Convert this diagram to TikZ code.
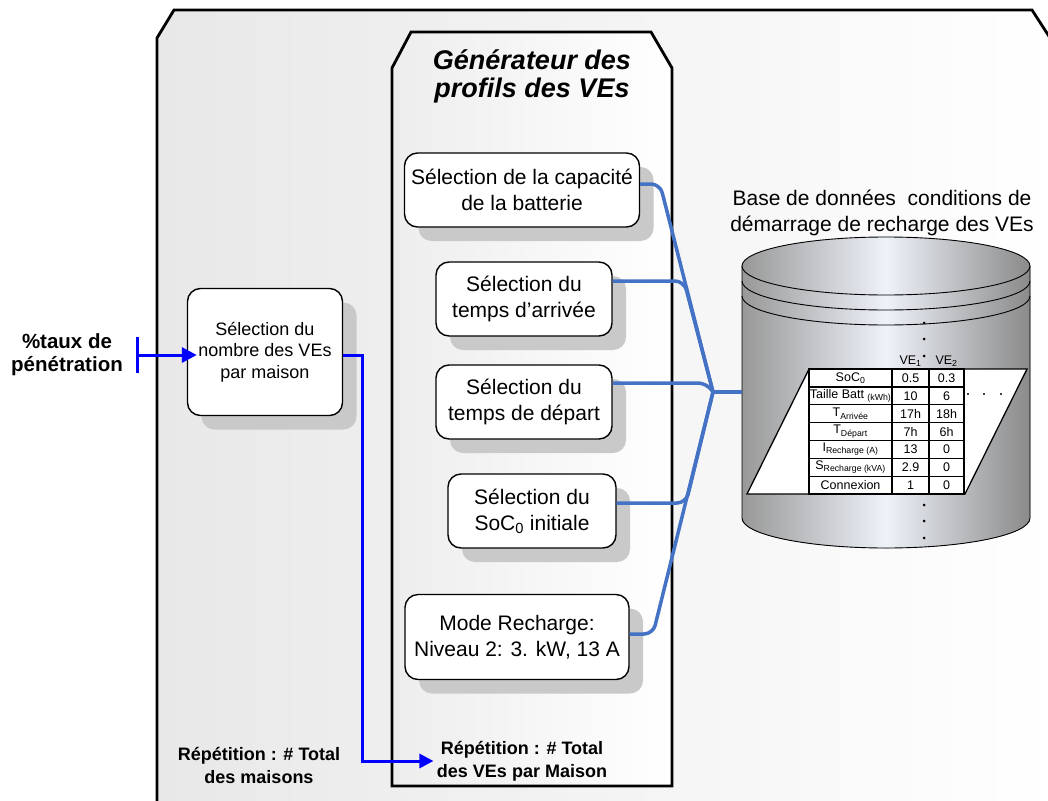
\documentclass[tikz,border=0pt]{standalone}
\usepackage{fontspec}
\setmainfont{Liberation Sans}
\usetikzlibrary{
  positioning, arrows.meta, shadows, matrix, calc
}
\definecolor{linkblue}{HTML}{4472C4}
\definecolor{loopblue}{HTML}{0000FF}
\definecolor{shadowgray}{HTML}{C9C9C9}
\definecolor{dbleft}{HTML}{989898}
\definecolor{dbright}{HTML}{8A8A8A}
\definecolor{dbmid}{HTML}{EEF2F9}

\begin{document}
\begin{tikzpicture}[
      x=1pt, y=-1pt,
      every node/.style={font=\fontsize{21}{26}\selectfont},
      selbox/.style={draw, line width=1.4pt, rounded corners=13pt, fill=white, align=center,
        inner sep=4pt, minimum height=74pt,
        drop shadow={shadow xshift=14pt, shadow yshift=-14pt, fill=shadowgray, opacity=1}},
      panel/.style={draw, line width=2.8pt, right color=white},
      link/.style={linkblue, line width=3.5pt, rounded corners=9pt},
      repeatarrow/.style={loopblue, line width=3pt},
      boldlabel/.style={font=\bfseries\fontsize{18}{23}\selectfont, align=center},
      dbshade/.style={left color=dbleft, right color=dbright, middle color=dbmid},
    ]
    \useasboundingbox (0,0) rectangle (1048,800);
    \clip (0,0) rectangle (1048,800);

    % frames
    \draw[panel, left color=black!9] (157,830) -- (157,38) -- (174,10) -- (1032,10) -- (1054,44) -- (1054,830);
    \draw[panel, left color=black!7] (392,786) -- (392,68) -- (411,32) -- (651,32) -- (672,68) -- (672,786) -- cycle;
    \node[font=\bfseries\itshape\fontsize{27}{28}\selectfont, align=center] (gen) at (532,76)
      {Générateur des\\profils des VEs};

    \node[selbox, minimum width=235pt] (capa) at (522,190) {Sélection de la capacité\\de la batterie};
    \node[selbox, minimum width=176pt] (arr) at (524,299) {Sélection du\\temps d’arrivée};
    \node[selbox, minimum width=176pt] (dep) at (524,402) {Sélection du\\temps de départ};
    \node[selbox, minimum width=168pt] (soc) at (532,511) {Sélection du\\SoC\textsubscript{0} initiale};
    \node[selbox, minimum width=224pt, minimum height=85pt] (mode) at (517,637)
      {Mode Recharge:\\Niveau 2: 3. kW, 13 A};
    \node[selbox, minimum width=155pt, minimum height=127pt, font=\fontsize{18}{21.5}\selectfont] (nb) at (265,352)
      {Sélection du\\nombre des VEs\\par maison};

    % database
    \node[align=center] (dblabel) at (882,213) {Base de données~ conditions de\\démarrage de recharge des VEs};
    \fill[dbshade] (742,266) -- (742,518) arc[start angle=180, end angle=0, x radius=144, y radius=30] -- (1030,266) -- cycle;
    \draw[line width=0.9pt] (742,266) -- (742,518) arc[start angle=180, end angle=0, x radius=144, y radius=30] -- (1030,266);
    \draw[line width=0.9pt, dbshade] (886,266) ellipse[x radius=144, y radius=29];
    \foreach \y in {281,296}
      \draw[line width=0.9pt] (742,\y) arc[start angle=180, end angle=0, x radius=144, y radius=29];

    \draw[line width=1.3pt, fill=white] (809,369) -- (1027,369) -- (965,494) -- (747,494) -- cycle;
    \matrix (tab) [matrix of nodes, anchor=north west, inner sep=0pt, outer sep=0pt,
      column sep=-1.3pt, row sep=-1.3pt,
      nodes={draw, line width=1.3pt, anchor=center, outer sep=0pt, inner sep=0pt,
        minimum height=17.86pt, font=\fontsize{12.5}{14}\selectfont},
      column 1/.style={nodes={minimum width=83pt}},
      column 2/.style={nodes={minimum width=37pt}},
      column 3/.style={nodes={minimum width=35pt}}] at (808.4,368.4) {
      SoC\textsubscript{0} & 0.5 & 0.3 \\
      Taille Batt \textsubscript{(kWh)} & 10 & 6 \\
      T\textsubscript{Arrivée} & 17h & 18h \\
      T\textsubscript{Départ} & 7h & 6h \\
      I\textsubscript{Recharge (A)} & 13 & 0 \\
      S\textsubscript{Recharge (kVA)} & 2.9 & 0 \\
      Connexion & 1 & 0 \\
    };
    \node[above=1pt of tab-1-2, font=\fontsize{12.5}{14}\selectfont, inner sep=1pt] (ve1) {VE\textsubscript{1}};
    \node[above=1pt of tab-1-3, font=\fontsize{12.5}{14}\selectfont, inner sep=1pt] (ve2) {VE\textsubscript{2}};
    \foreach \y in {323,339,356,505,521,538}
      \fill (924,\y) circle[radius=1.5];
    \foreach \x in {968,984,1001}
      \fill (\x,394) circle[radius=1.2];

    % links to the database
    \coordinate (merge) at (713,392);
    \coordinate (dbin) at (742,392);
    \draw[link] ([yshift=6pt]capa.east) -- (660,184) -- (merge);
    \draw[link] ([yshift=18pt]arr.east) -- (684,281) -- (merge);
    \draw[link] ([yshift=19pt]dep.east) -- (707,383) -- (merge);
    \draw[link] ([yshift=8pt]soc.east) -- (686,503) -- (merge);
    \draw[link] ([yshift=3pt]mode.east) -- (653,634) -- (merge);
    \draw[link] (merge) -- (dbin);

    % inputs and loops
    \node[font=\bfseries\fontsize{20.5}{23}\selectfont, align=center] (taux) at (67,355) {\%taux de\\pénétration};
    \draw[repeatarrow, {Bar[width=36pt]}-{Triangle[length=15pt, width=15pt]}]
      ([xshift=10pt]taux.east) -- ([xshift=10pt]taux.east -| nb.west);
    \node[boldlabel] (rep1) at (259,765) {Répétition : \# Total\\des maisons};
    \node[boldlabel] (rep2) at (522,761) {Répétition : \# Total\\des VEs par Maison};
    \draw[repeatarrow, -{Triangle[length=14pt, width=14pt]}] ([yshift=-3pt]nb.east) -- ++(19,0) |- (rep2.west);
  \end{tikzpicture}
\end{document}
